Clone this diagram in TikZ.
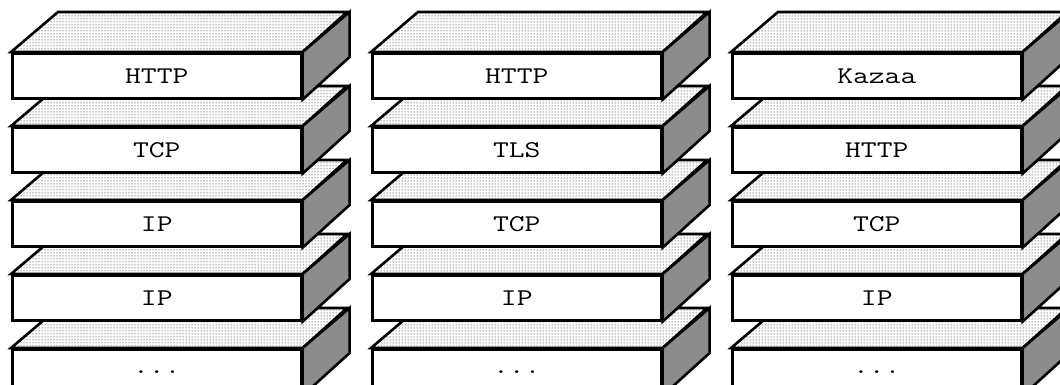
\documentclass[tikz,border=0pt]{standalone}
\usepackage{fontspec}
\usepackage{graphicx}
\usetikzlibrary{patterns}
% wide typewriter labels
\newcommand\widett[1]{\scalebox{1.28}[1]{#1}}
\tikzset{
  front/.style={draw, line width=2.6pt, fill=white, rectangle, anchor=north west,
    minimum width=289pt, minimum height=45pt, inner sep=0pt,
    font=\ttfamily\fontsize{24}{24}\selectfont},
  topface/.style={draw, line width=2.6pt, preaction={fill=white}, pattern=dots},
  sideface/.style={draw, line width=2.6pt, fill=black!45},
}
\begin{document}
\begin{tikzpicture}[x=1pt,y=-1pt]
\useasboundingbox (0,0) rectangle (1060,385);
% one protocol layer drawn as a slab: front face (node), top face and side face
\newcommand\layerslab[4]{%
  \node[front] (#1) at (#2,#3) {\widett{#4}};
  \draw[topface] (#1.north west) -- ++(47,-40) -- ++(289,0) -- (#1.north east) -- cycle;
  \draw[sideface] (#1.north east) -- ++(47,-40) -- ++(0,45) -- (#1.south east) -- cycle;
}
% each stack is drawn from the bottom layer up so that upper slabs cover lower ones
\newcommand\protostack[7]{%
  \layerslab{#1e}{#2}{348}{#7}
  \layerslab{#1d}{#2}{274}{#6}
  \layerslab{#1c}{#2}{200}{#5}
  \layerslab{#1b}{#2}{126}{#4}
  \layerslab{#1a}{#2}{52}{#3}
}
\protostack{web}{11}{HTTP}{TCP}{IP}{IP}{...}
\protostack{tls}{371}{HTTP}{TLS}{TCP}{IP}{...}
\protostack{p2p}{731}{Kazaa}{HTTP}{TCP}{IP}{...}
\end{tikzpicture}
\end{document}
